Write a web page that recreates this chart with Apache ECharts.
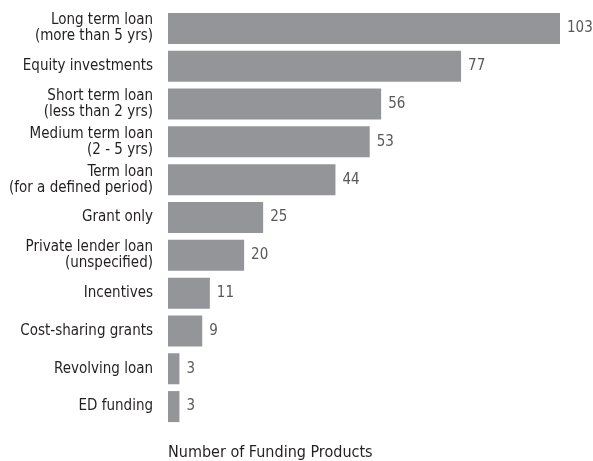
<!DOCTYPE html>
<html>
<head>
<meta charset="utf-8">
<script src="https://cdn.jsdelivr.net/npm/echarts@6/dist/echarts.min.js"></script>
<style>
  html, body { margin: 0; padding: 0; background: #fff; }
  #chart { width: 593px; height: 461px; }
</style>
</head>
<body>
<div id="chart"></div>
<script>
// Funding product types, listed top to bottom
const categories = [
  'Long term loan\n(more than 5 yrs)',
  'Equity investments',
  'Short term loan\n(less than 2 yrs)',
  'Medium term loan\n(2 - 5 yrs)',
  'Term loan\n(for a defined period)',
  'Grant only',
  'Private lender loan\n(unspecified)',
  'Incentives',
  'Cost-sharing grants',
  'Revolving loan',
  'ED funding'
];
const counts = [103, 77, 56, 53, 44, 25, 20, 11, 9, 3, 3];
const axisTitle = 'Number of Funding Products';

const FONT = '"Liberation Sans Narrow", "DejaVu Sans Condensed", "Liberation Sans", sans-serif';

const chart = echarts.init(document.getElementById('chart'), null, { renderer: 'canvas' });
chart.setOption({
  animation: false,
  backgroundColor: '#ffffff',
  grid: { left: 168, right: 33, top: 9.5, bottom: 35.5, containLabel: false },
  xAxis: {
    type: 'value',
    min: 0,
    max: 103,
    show: true,
    axisLine: { show: false },
    axisTick: { show: false },
    axisLabel: { show: false },
    splitLine: { show: false },
    name: axisTitle,
    nameLocation: 'start',
    nameGap: 0,
    nameTextStyle: {
      fontFamily: FONT, fontSize: 16, color: '#231f20',
      align: 'left', verticalAlign: 'top', padding: [19, 0, 0, 0]
    }
  },
  yAxis: {
    type: 'category',
    inverse: true,
    data: categories,
    axisLine: { show: false },
    axisTick: { show: false },
    splitLine: { show: false },
    axisLabel: {
      margin: 15,
      fontFamily: FONT,
      fontSize: 15,
      lineHeight: 16,
      color: '#231f20',
      align: 'right'
    }
  },
  series: [{
    type: 'bar',
    data: counts,
    barCategoryGap: '18%',
    itemStyle: { color: '#939598' },
    label: {
      show: true,
      position: 'right',
      distance: 7,
      fontFamily: FONT,
      fontSize: 15,
      color: '#58595b'
    }
  }]
});
</script>
</body>
</html>
